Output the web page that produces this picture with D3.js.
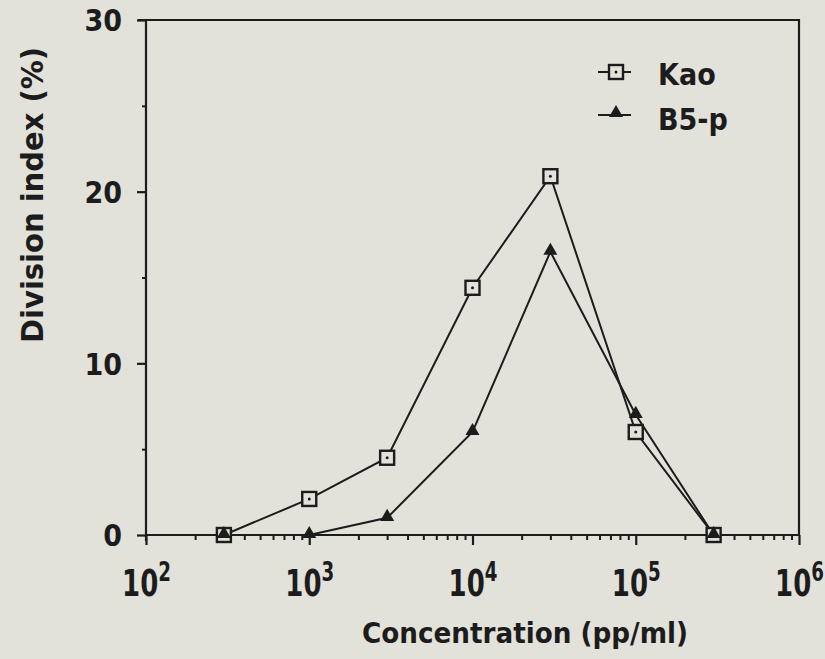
<!DOCTYPE html>
<html>
<head>
<meta charset="UTF-8" />
<title>Division index</title>
<script src="https://d3js.org/d3.v7.min.js"></script>
<style>
  body { margin: 0; background: #e3e2da; }
  text { font-family: "DejaVu Sans Condensed", "DejaVu Sans", sans-serif; font-weight: bold; fill: #1c1c1c; }
</style>
</head>
<body>
<script>
var w = 825, h = 659;

// data
var concentrations = [300, 1000, 3000, 10000, 30000, 100000, 300000];
var kaoValues = [0, 2.1, 4.5, 14.4, 20.9, 6.0, 0];
var b5pValues = [0, 0, 1.0, 6.0, 16.5, 7.0, 0];
var xTicks = [1e2, 1e3, 1e4, 1e5, 1e6];
var yTicks = [0, 10, 20, 30];
var yMinor = [5, 15, 25];
var seriesNames = ["Kao", "B5-p"];

var pLeft = 146, pRight = 799, pTop = 20, pBottom = 535;
var ink = "#1c1c1c";
var paper = "#e3e2da";

var svg = d3.select("body").append("svg")
    .attr("width", w)
    .attr("height", h);

svg.append("rect").attr("width", w).attr("height", h).attr("fill", paper);

var x = d3.scaleLog().domain([1e2, 1e6]).range([pLeft, pRight]);
var y = d3.scaleLinear().domain([0, 30]).range([pBottom, pTop]);

// frame (top + right)
svg.append("path")
    .attr("d", "M" + (pLeft - 8) + "," + pTop + "H" + pRight + "V" + pBottom)
    .attr("fill", "none").attr("stroke", ink).attr("stroke-width", 2.2);

// x axis: minor ticks
var minor = [];
for (var e = 2; e < 6; e++) for (var k = 2; k <= 9; k++) minor.push(k * Math.pow(10, e));
var xMinorAxis = d3.axisBottom(x).tickValues(minor).tickSize(5).tickFormat("");
var gxm = svg.append("g").attr("transform", "translate(0," + pBottom + ")").call(xMinorAxis);
gxm.select(".domain").remove();
gxm.selectAll("line").attr("stroke", ink).attr("stroke-width", 2);

var xAxis = d3.axisBottom(x).tickValues(xTicks).tickSize(10).tickFormat("");
var gx = svg.append("g").attr("transform", "translate(0," + pBottom + ")").call(xAxis);
gx.select(".domain").attr("stroke", ink).attr("stroke-width", 2.2).attr("d", "M" + pLeft + ",0H" + pRight);
gx.selectAll("line").attr("stroke", ink).attr("stroke-width", 2.2);

// tick labels 10^n (tall, narrow plotter digits)
gx.selectAll(".tick").append("text")
    .attr("transform", "translate(0,61) scale(0.78,1)")
    .attr("text-anchor", "middle")
    .attr("fill", ink)
    .style("font-size", "37px")
    .each(function(d) {
        var t = d3.select(this);
        t.append("tspan").text("10");
        t.append("tspan").attr("dy", -15).style("font-size", "26px").text(Math.round(Math.log10(d)));
    });

// y axis
var yAxis = d3.axisLeft(y).tickValues(yTicks).tickSize(9).tickPadding(15);
var gy = svg.append("g").attr("transform", "translate(" + pLeft + ",0)").call(yAxis);
gy.select(".domain").attr("stroke", ink).attr("stroke-width", 2.2).attr("d", "M0," + (pBottom + 6) + "V" + pTop);
gy.selectAll("line").attr("stroke", ink).attr("stroke-width", 2.2);
gy.selectAll("text").attr("fill", ink).style("font-size", "30px").attr("dy", "0.36em");

var yMinorAxis = d3.axisLeft(y).tickValues(yMinor).tickSize(4).tickFormat("");
var gym = svg.append("g").attr("transform", "translate(" + pLeft + ",0)").call(yMinorAxis);
gym.select(".domain").remove();
gym.selectAll("line").attr("stroke", ink).attr("stroke-width", 2);

// axis titles
svg.append("text")
    .attr("x", 525).attr("y", 643)
    .attr("text-anchor", "middle")
    .attr("textLength", 326)
    .attr("lengthAdjust", "spacingAndGlyphs")
    .style("font-size", "29px")
    .text("Concentration (pp/ml)");

svg.append("text")
    .attr("transform", "translate(43,195) rotate(-90)")
    .attr("text-anchor", "middle")
    .attr("textLength", 296)
    .attr("lengthAdjust", "spacingAndGlyphs")
    .style("font-size", "30px")
    .text("Division index (%)");

// lines
var line = d3.line()
    .x(function(d) { return x(d[0]); })
    .y(function(d) { return y(d[1]); });

var kao = concentrations.map(function(c, i) { return [c, kaoValues[i]]; });
var b5p = concentrations.map(function(c, i) { return [c, b5pValues[i]]; });

svg.append("path").datum(kao).attr("d", line)
    .attr("fill", "none").attr("stroke", ink).attr("stroke-width", 2);
svg.append("path").datum(b5p).attr("d", line)
    .attr("fill", "none").attr("stroke", ink).attr("stroke-width", 2);

var tri = d3.symbol().type(d3.symbolTriangle).size(85);

function square(g, cx, cy) {
    g.append("rect")
        .attr("x", cx - 7).attr("y", cy - 7)
        .attr("width", 14).attr("height", 14)
        .attr("fill", paper).attr("stroke", ink).attr("stroke-width", 2.4);
    g.append("circle").attr("cx", cx).attr("cy", cy).attr("r", 1.5).attr("fill", ink);
}

var marks = svg.append("g");
kao.forEach(function(d) { square(marks, x(d[0]), y(d[1])); });
marks.selectAll(".tri").data(b5p).enter().append("path")
    .attr("class", "tri")
    .attr("d", tri)
    .attr("transform", function(d) { return "translate(" + x(d[0]) + "," + (y(d[1]) - 1) + ")"; })
    .attr("fill", ink);

// legend
var leg = svg.append("g");
leg.append("line").attr("x1", 598).attr("x2", 631).attr("y1", 72).attr("y2", 72)
    .attr("stroke", ink).attr("stroke-width", 2);
square(leg, 616, 72);
leg.append("line").attr("x1", 598).attr("x2", 631).attr("y1", 115).attr("y2", 115)
    .attr("stroke", ink).attr("stroke-width", 2);
leg.append("path").attr("d", tri).attr("transform", "translate(616,113)").attr("fill", ink);

leg.selectAll(".lab").data(seriesNames).enter().append("text")
    .attr("class", "lab")
    .attr("x", 658)
    .attr("y", function(d, i) { return 85 + i * 45; })
    .style("font-size", "30px")
    .text(function(d) { return d; });
</script>
</body>
</html>
